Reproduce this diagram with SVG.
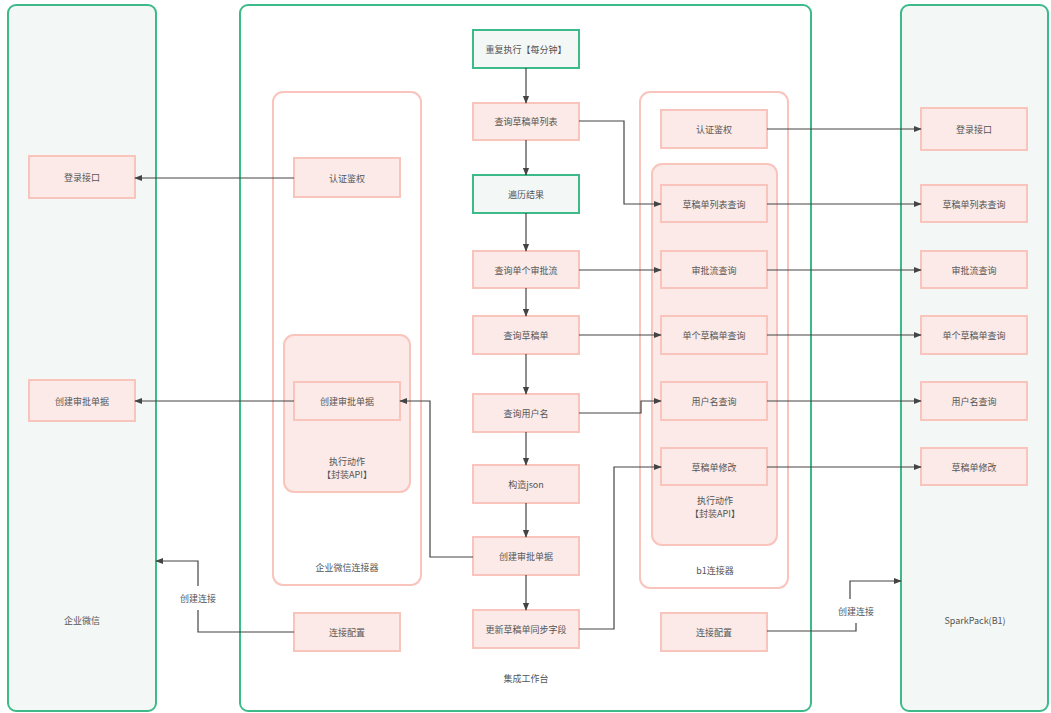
<svg xmlns="http://www.w3.org/2000/svg" width="1051" height="713" viewBox="0 0 1051 713">
<style>
.panel{fill:#f3f7f6;stroke:#3dba8a;stroke-width:2}
.panelw{fill:#fff;stroke:#3dba8a;stroke-width:2}
.grp{fill:#fff;stroke:#f8c4bc;stroke-width:2}
.grpf{fill:#fbeae8;stroke:#f8c4bc;stroke-width:2}
.box{fill:#fbeae8;stroke:#f8c4bc;stroke-width:2}
.gbox{fill:#f3f7f6;stroke:#3dba8a;stroke-width:2}
text{font-family:"Noto Sans CJK SC","Liberation Sans",sans-serif;font-size:9px;fill:#555;text-anchor:middle;dominant-baseline:central}
.c{fill:none;stroke:#444;stroke-width:1.2}
</style>
<defs>
<marker id="ah" viewBox="0 0 10 10" refX="9" refY="5" markerWidth="8" markerHeight="8" markerUnits="userSpaceOnUse" orient="auto">
<path d="M0,1 L10,5 L0,9 z" fill="#444"/>
</marker>
</defs>

<g id="wechat">
<rect class="panel" x="8" y="5" width="148" height="706" rx="8"/>
<text x="82" y="620">企业微信</text>
</g>
<g id="workbench">
<rect class="panelw" x="240" y="5" width="571" height="706" rx="8"/>
<text x="526" y="678">集成工作台</text>
</g>
<g id="sparkpack">
<rect class="panel" x="901" y="5" width="147" height="706" rx="8"/>
<text x="975" y="620">SparkPack(B1)</text>
</g>

<g id="wx-connector">
<rect class="grp" x="273" y="92" width="148" height="493" rx="10"/>
<text x="347" y="567">企业微信连接器</text>
</g>
<g id="wx-exec">
<rect class="grpf" x="284" y="335" width="126" height="157" rx="10"/>
<text x="347" y="461">执行动作</text>
<text x="347" y="474">【封装API】</text>
</g>
<g id="b1-connector">
<rect class="grp" x="640" y="92" width="148" height="496" rx="10"/>
<text x="715" y="570">b1连接器</text>
</g>
<g id="b1-exec">
<rect class="grpf" x="652" y="164" width="125" height="381" rx="10"/>
<text x="715" y="500">执行动作</text>
<text x="715" y="513">【封装API】</text>
</g>

<g id="wx-login"><rect class="box" x="29" y="156" width="106" height="42"/><text x="82" y="177">登录接口</text></g>
<g id="wx-create"><rect class="box" x="29" y="380" width="106" height="41"/><text x="82" y="401">创建审批单据</text></g>

<g id="wxc-auth"><rect class="box" x="294" y="158" width="106" height="39"/><text x="347" y="178">认证鉴权</text></g>
<g id="wxc-create"><rect class="box" x="294" y="382" width="106" height="38"/><text x="347" y="401">创建审批单据</text></g>
<g id="wxc-config"><rect class="box" x="294" y="613" width="106" height="38"/><text x="347" y="632">连接配置</text></g>

<g id="repeat"><rect class="gbox" x="473" y="30" width="106" height="38"/><text x="526" y="49">重复执行【每分钟】</text></g>
<g id="q-list"><rect class="box" x="473" y="103" width="106" height="37"/><text x="526" y="121">查询草稿单列表</text></g>
<g id="iterate"><rect class="gbox" x="473" y="175" width="106" height="38"/><text x="526" y="194">遍历结果</text></g>
<g id="q-flow"><rect class="box" x="473" y="251" width="106" height="37"/><text x="526" y="270">查询单个审批流</text></g>
<g id="q-draft"><rect class="box" x="473" y="316" width="106" height="38"/><text x="526" y="335">查询草稿单</text></g>
<g id="q-user"><rect class="box" x="473" y="394" width="106" height="38"/><text x="526" y="413">查询用户名</text></g>
<g id="json"><rect class="box" x="473" y="465" width="106" height="38"/><text x="526" y="484">构造json</text></g>
<g id="create"><rect class="box" x="473" y="537" width="106" height="38"/><text x="526" y="556">创建审批单据</text></g>
<g id="update"><rect class="box" x="473" y="610" width="106" height="38"/><text x="526" y="629">更新草稿单同步字段</text></g>

<g id="b1-auth"><rect class="box" x="661" y="110" width="106" height="38"/><text x="714" y="129">认证鉴权</text></g>
<g id="b1-list"><rect class="box" x="661" y="185" width="106" height="37"/><text x="714" y="204">草稿单列表查询</text></g>
<g id="b1-flow"><rect class="box" x="661" y="251" width="106" height="37"/><text x="714" y="270">审批流查询</text></g>
<g id="b1-draft"><rect class="box" x="661" y="316" width="106" height="38"/><text x="714" y="335">单个草稿单查询</text></g>
<g id="b1-user"><rect class="box" x="661" y="382" width="106" height="38"/><text x="714" y="401">用户名查询</text></g>
<g id="b1-modify"><rect class="box" x="661" y="448" width="106" height="37"/><text x="714" y="467">草稿单修改</text></g>
<g id="b1-config"><rect class="box" x="661" y="613" width="106" height="38"/><text x="714" y="632">连接配置</text></g>

<g id="sp-login"><rect class="box" x="921" y="108" width="106" height="42"/><text x="974" y="129">登录接口</text></g>
<g id="sp-list"><rect class="box" x="921" y="185" width="106" height="37"/><text x="974" y="204">草稿单列表查询</text></g>
<g id="sp-flow"><rect class="box" x="921" y="251" width="106" height="37"/><text x="974" y="270">审批流查询</text></g>
<g id="sp-draft"><rect class="box" x="921" y="316" width="106" height="38"/><text x="974" y="335">单个草稿单查询</text></g>
<g id="sp-user"><rect class="box" x="921" y="382" width="106" height="38"/><text x="974" y="401">用户名查询</text></g>
<g id="sp-modify"><rect class="box" x="921" y="448" width="106" height="37"/><text x="974" y="467">草稿单修改</text></g>

<g id="connectors">
<path class="c" marker-end="url(#ah)" d="M526,68 V103"/>
<path class="c" marker-end="url(#ah)" d="M526,140 V175"/>
<path class="c" marker-end="url(#ah)" d="M526,213 V251"/>
<path class="c" marker-end="url(#ah)" d="M526,288 V316"/>
<path class="c" marker-end="url(#ah)" d="M526,354 V394"/>
<path class="c" marker-end="url(#ah)" d="M526,432 V465"/>
<path class="c" marker-end="url(#ah)" d="M526,503 V537"/>
<path class="c" marker-end="url(#ah)" d="M526,575 V610"/>

<path class="c" marker-end="url(#ah)" d="M579,121 H624 V204 H661"/>
<path class="c" marker-end="url(#ah)" d="M579,270 H661"/>
<path class="c" marker-end="url(#ah)" d="M579,335 H661"/>
<path class="c" marker-end="url(#ah)" d="M579,413 H641 V401 H661"/>
<path class="c" marker-end="url(#ah)" d="M579,629 H614 V467 H661"/>
<path class="c" marker-end="url(#ah)" d="M473,557 H430 V401 H400"/>

<path class="c" marker-end="url(#ah)" d="M294,178 H135"/>
<path class="c" marker-end="url(#ah)" d="M294,401 H135"/>
<path class="c" d="M294,632 H198 V610"/>
<path class="c" marker-end="url(#ah)" d="M198,586 V561 H156"/>
<text x="198" y="598">创建连接</text>

<path class="c" marker-end="url(#ah)" d="M767,129 H921"/>
<path class="c" marker-end="url(#ah)" d="M767,204 H921"/>
<path class="c" marker-end="url(#ah)" d="M767,270 H921"/>
<path class="c" marker-end="url(#ah)" d="M767,335 H921"/>
<path class="c" marker-end="url(#ah)" d="M767,401 H921"/>
<path class="c" marker-end="url(#ah)" d="M767,467 H921"/>
<path class="c" d="M767,631 H856 V623"/>
<path class="c" marker-end="url(#ah)" d="M850,599 V581 H901"/>
<text x="856" y="611">创建连接</text>
</g>
</svg>
